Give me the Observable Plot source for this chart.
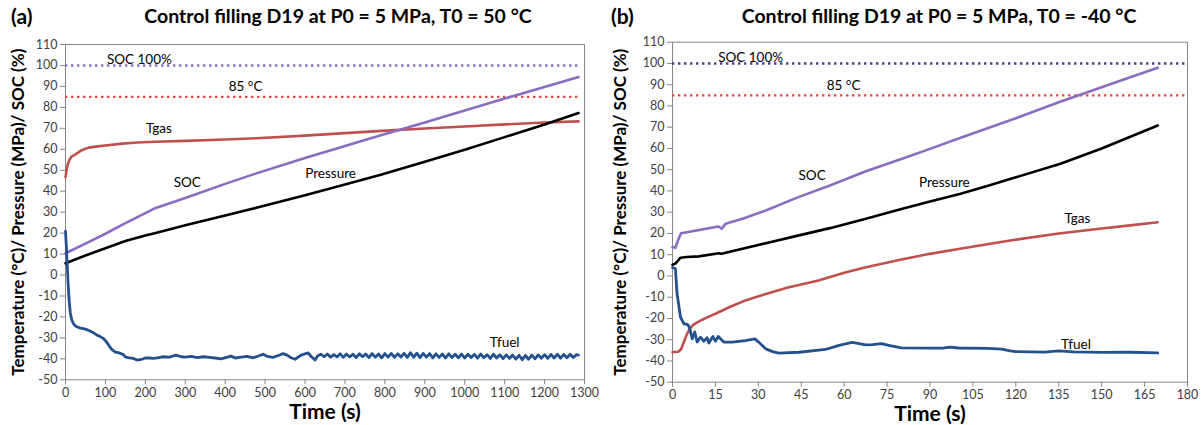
<!DOCTYPE html>
<html>
<head>
<meta charset="utf-8">
<script src="https://cdn.jsdelivr.net/npm/d3@7"></script>
<script src="https://cdn.jsdelivr.net/npm/@observablehq/plot@0.6"></script>
<style>
  body { margin: 0; background: #fff; font-family: Lato, "Open Sans", sans-serif; }
  #wrap { position: relative; width: 1204px; height: 425px; overflow: hidden; }
  .ttl { position: absolute; top: 4px; font-weight: bold; font-size: 19.5px; color: #000; white-space: nowrap; transform: translateX(-50%); }
  .tag { position: absolute; top: 3px; font-weight: bold; font-size: 21px; color: #000; }
  .pnl { position: absolute; top: 34px; }
  .pnl svg { font-family: Lato, "Open Sans", sans-serif; }
  g[aria-label="x-axis tick"] path, g[aria-label="y-axis tick"] path { stroke: #868686; }
</style>
</head>
<body>
<div id="wrap">
  <div class="tag" style="left:11px">(a)</div>
  <div class="ttl" style="left:338px">Control filling D19 at P0 = 5 MPa, T0 = 50 °C</div>
  <div class="tag" style="left:611px">(b)</div>
  <div class="ttl" style="left:939px">Control filling D19 at P0 = 5 MPa, T0 = -40 °C</div>
  <div class="pnl" id="pa" style="left:0px"></div>
  <div class="pnl" id="pb" style="left:602px"></div>
</div>
<script>
// ---------- shared ticks ----------
const yTicks = [-50, -40, -30, -20, -10, 0, 10, 20, 30, 40, 50, 60, 70, 80, 90, 100, 110];
const xTicksA = [0, 100, 200, 300, 400, 500, 600, 700, 800, 900, 1000, 1100, 1200, 1300];
const xTicksB = [0, 15, 30, 45, 60, 75, 90, 105, 120, 135, 150, 165, 180];
const yLabel = "Temperature (°C)/ Pressure (MPa)/ SOC (%)";
const xLabel = "Time (s)";

// ---------- panel (a): T0 = 50 °C ----------
const tgasA_t = [0, 3, 6, 10, 15, 25, 40, 58, 80, 100, 142, 180, 226, 300, 400, 478, 600, 700, 792, 900, 1000, 1100, 1200, 1285];
const tgasA_v = [46.7, 50.5, 53, 55, 56.5, 57.6, 59.5, 60.8, 61.4, 61.8, 62.7, 63.2, 63.6, 64.0, 64.7, 65.3, 66.5, 67.7, 68.8, 69.9, 70.9, 71.9, 72.8, 73.3];

const socA_t = [0, 50, 100, 150, 200, 226, 300, 400, 478, 600, 700, 792, 900, 1000, 1100, 1200, 1285];
const socA_v = [10.4, 15, 19.7, 24.8, 29.5, 32, 36.8, 43.5, 48.5, 55.8, 61.6, 66.8, 72.8, 78.5, 84.2, 89.7, 94.5];

const presA_t = [0, 50, 100, 150, 200, 226, 300, 400, 478, 600, 700, 792, 900, 1000, 1100, 1200, 1285];
const presA_v = [5.6, 9.3, 12.8, 16.2, 18.9, 20.1, 23.7, 28.4, 32.1, 38.1, 43.2, 48.0, 54.0, 59.8, 65.8, 71.8, 77.3];

const tfuelA_t = [0, 2, 4, 6, 8, 10, 12, 15, 18, 21, 25, 30, 36, 42, 50, 60, 70, 80, 88, 95, 100, 105, 110, 117, 125, 135, 145, 151, 160, 170, 180, 190, 200, 210, 220, 230, 245, 260, 277, 290, 300, 315, 330, 345, 360, 375, 390, 405, 415, 425, 440, 455, 470, 485, 495, 505, 520, 535, 545, 555, 565, 575, 590, 600, 608, 616, 625, 632,
  640, 648, 656, 664, 672, 680, 688, 696, 704, 712, 720, 728, 736, 744, 752, 760, 768, 776, 784, 792, 800, 808, 816, 824, 832, 840, 848, 856, 864, 872, 880, 888, 896, 904, 912, 920, 928, 936, 944, 952, 960, 968, 976, 984, 992, 1000, 1008, 1016, 1024, 1032, 1040, 1048, 1056, 1064, 1072, 1080, 1088, 1096, 1104, 1112, 1120, 1128, 1136, 1144, 1152, 1160, 1168, 1176, 1184, 1192, 1200, 1208, 1216, 1224, 1232, 1240, 1248, 1256, 1264, 1272, 1280, 1285];
const tfuelA_v = [20.9, 14, 6, -2, -9, -14, -18, -21, -22.5, -23.5, -24.3, -24.8, -25.2, -25.5, -25.8, -26.6, -27.6, -28.8, -29.5, -30.3, -31.3, -32.5, -34, -35.7, -36.8, -37.2, -38, -39.2, -39.5, -39.8, -40.6, -40.3, -39.6, -39.6, -39.8, -39.5, -39, -39.2, -38.2, -39, -39.2, -38.8, -39.4, -39, -39.3, -39.6, -40, -39.2, -38.7, -39.6, -39.2, -38.8, -39.5, -38.5, -37.8, -38.8, -39.3, -38.3, -37.5, -38.2, -39.5, -40.2, -38.2, -37.6, -37.2, -39, -40.5, -38.5,
  -37.8, -39.0, -37.7, -39.2, -38.0, -39.1, -37.6, -39.3, -37.7, -39.1, -37.8, -39.4, -37.6, -39.0, -37.7, -39.4, -37.5, -39.2, -37.7, -39.5, -37.5, -39.2, -37.4, -39.3, -37.6, -39.1, -37.4, -39.3, -37.1, -39.2, -37.3, -39.4, -37.4, -39.2, -37.5, -39.5, -37.6, -39.3, -37.7, -39.6, -37.6, -39.4, -37.8, -39.5, -37.7, -39.6, -37.8, -39.4, -37.9, -39.7, -37.7, -39.5, -38.0, -39.8, -37.8, -39.6, -38.0, -39.9, -38.1, -39.8, -38.2, -40.1, -38.3, -40.4, -38.4, -40.2, -38.2, -40.0, -38.1, -39.7, -38.0, -39.8, -37.9, -39.6, -37.8, -39.7, -37.9, -39.5, -37.8, -39.4, -38.0, -38.2];

const refsA = [{name: "SOC 100%", y: 100, x1: 0, x2: 1285}, {name: "85 °C", y: 85, x1: 0, x2: 1285}];
const labelsA_text = ["SOC 100%", "85 °C", "Tgas", "SOC", "Pressure", "Tfuel"];
const labelsA_x = [185, 451, 234, 305, 664, 1100];
const labelsA_y = [102.6, 89.8, 69.6, 44, 48.5, -32.2];

// ---------- panel (b): T0 = -40 °C ----------
const tgasB_t = [0, 2, 3, 4, 5, 6, 7, 8.5, 10.4, 12, 15, 20, 25.5, 29, 35, 40, 51, 60, 67.6, 80, 90, 100, 118, 135, 150, 160, 169.6];
const tgasB_v = [-35.9, -35.7, -34.5, -31, -27.5, -25, -23.3, -22, -20.6, -19.6, -17.8, -14.6, -11.5, -10, -7.5, -5.6, -2.1, 1.5, 4.1, 7.7, 10.4, 12.7, 16.7, 20, 22.3, 23.8, 25.3];

const socB_t = [0, 1, 2, 3, 5, 10, 16, 17.2, 18.6, 25, 32.6, 44, 55, 67.6, 80, 90, 100.7, 120, 135, 150, 160, 169.6];
const socB_v = [13.6, 13.3, 17, 20.1, 20.6, 21.8, 23.3, 22.2, 24.6, 27.2, 30.8, 37.1, 42.6, 49.3, 55, 59.8, 65, 74.2, 81.7, 88.8, 93.5, 98];

const presB_t = [0, 1, 2.8, 5, 9.2, 16.2, 17.2, 20, 32.6, 44.2, 55, 67.6, 80, 90, 100.7, 110, 120, 135.6, 150, 160, 169.6];
const presB_v = [5.3, 5.8, 8.6, 8.9, 9.2, 10.7, 10.4, 11.4, 15.4, 19.1, 22.5, 26.9, 31.5, 35, 38.7, 42.3, 46.4, 52.8, 60, 65.5, 70.8];

const tfuelB_t = [0, 1, 1.6, 2.8, 4, 5.2, 5.9, 6.9, 7.8, 8.6, 9.8, 10.9, 12.1, 12.7, 14.1, 15, 16, 17.9, 20.9, 25.5, 28.8, 30, 32.6, 35, 37.2, 44.2, 53.5, 58.2, 62.8, 67.6, 70, 73, 76, 80, 90, 95, 97, 100, 110, 115, 118, 120, 130, 135, 140, 150, 160, 169.6];
const tfuelB_v = [3.9, 3.5, -8.4, -19.4, -22.5, -22.8, -24.1, -29.6, -26.4, -31.1, -28.8, -30.7, -29.1, -31.6, -28.5, -30.7, -28.5, -31.1, -31.1, -30.4, -29.6, -31, -34.3, -35.6, -36.3, -35.9, -34.6, -32.7, -31.3, -32.4, -32.3, -31.8, -32.8, -33.8, -34, -33.9, -33.5, -33.9, -34.1, -34.4, -35.3, -35.6, -35.8, -35.3, -35.7, -36, -35.9, -36.2];

const refsB = [{name: "SOC 100%", y: 100, x1: 0, x2: 180}, {name: "85 °C", y: 85, x1: 0, x2: 180}];
const labelsB_text = ["SOC 100%", "85 °C", "SOC", "Pressure", "Tgas", "Tfuel"];
const labelsB_x = [27.3, 59.8, 48.8, 95, 141.5, 141];
const labelsB_y = [102.8, 89.6, 47.3, 44.1, 26.9, -32.2];

// ---------- styles ----------
const colTgas = "#c0504d", colSoc = "#8a6cc0", colPres = "#000000", colTfuel = "#22518e";
const zip = (t, v) => t.map((x, i) => ({x, y: v[i]}));
const labs = (tx, xs, ys) => tx.map((s, i) => ({s, x: xs[i], y: ys[i]}));

function panel(cfg) {
  return Plot.plot({
    width: 602,
    height: 391,
    marginLeft: cfg.ml, marginRight: cfg.mr, marginTop: cfg.mt, marginBottom: cfg.mb,
    style: {background: "#fff", color: "#404040", fontSize: "12.5px"},
    x: {domain: cfg.xdom, ticks: cfg.xticks, tickSize: 5, tickPadding: 3, label: null, tickFormat: d => String(d)},
    y: {domain: [-50, 110], ticks: yTicks, tickSize: 5, tickPadding: 3, label: null, tickFormat: d => String(d)},
    marks: [
      Plot.frame({stroke: "#868686", strokeWidth: 1}),
      Plot.ruleY([cfg.refs[0]], {y: "y", x1: "x1", x2: "x2", stroke: cfg.socRef, strokeWidth: 2.4, strokeDasharray: "2.4,3.6"}),
      Plot.ruleY([cfg.refs[1]], {y: "y", x1: "x1", x2: "x2", stroke: "#e04a40", strokeWidth: 2.4, strokeDasharray: "2.4,3.6"}),
      ...cfg.series.map(s => Plot.line(s.data, {x: "x", y: "y", stroke: s.color, strokeWidth: s.w, strokeLinejoin: "round", strokeLinecap: "round"})),
      Plot.text(cfg.labels, {x: "x", y: "y", text: "s", fill: "#000", fontSize: 13.5}),
      Plot.text([yLabel], {frameAnchor: "left", textAnchor: "middle", lineAnchor: "middle", rotate: -90, dx: cfg.ylx, fontWeight: "bold", fontSize: 17, fill: "#000"}),
      Plot.text([xLabel], {frameAnchor: "bottom", textAnchor: "middle", lineAnchor: "middle", dy: 32, fontWeight: "bold", fontSize: 21, fill: "#000"})
    ]
  });
}

document.getElementById("pa").appendChild(panel({
  ml: 65, mr: 18, mt: 10, mb: 45.7, xdom: [0, 1300], xticks: xTicksA, refs: refsA, socRef: "#8a6cc0", ylx: -47,
  series: [
    {data: zip(tgasA_t, tgasA_v), color: colTgas, w: 2.6},
    {data: zip(socA_t, socA_v), color: colSoc, w: 2.6},
    {data: zip(presA_t, presA_v), color: colPres, w: 2.6},
    {data: zip(tfuelA_t, tfuelA_v), color: colTfuel, w: 2.8}
  ],
  labels: labs(labelsA_text, labelsA_x, labelsA_y)
}));

document.getElementById("pb").appendChild(panel({
  ml: 70, mr: 17, mt: 7.7, mb: 43.3, xdom: [0, 180], xticks: xTicksB, refs: refsB, socRef: "#4e3f90", ylx: -52,
  series: [
    {data: zip(tgasB_t, tgasB_v), color: colTgas, w: 2.6},
    {data: zip(socB_t, socB_v), color: colSoc, w: 2.6},
    {data: zip(presB_t, presB_v), color: colPres, w: 2.6},
    {data: zip(tfuelB_t, tfuelB_v), color: colTfuel, w: 2.8}
  ],
  labels: labs(labelsB_text, labelsB_x, labelsB_y)
}));
</script>
</body>
</html>
